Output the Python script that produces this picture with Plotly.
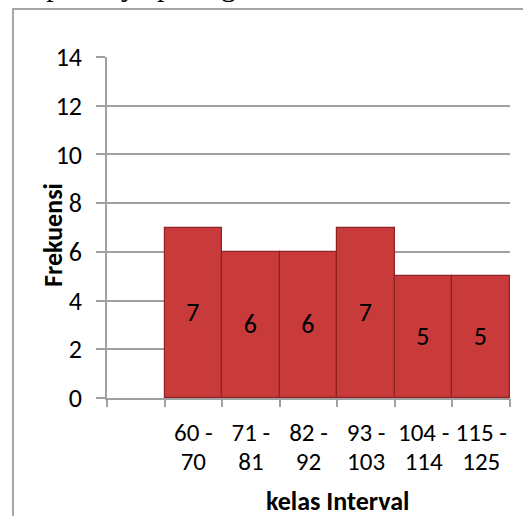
import plotly.graph_objects as go

# ---- data ----
categories = ["", "60 - 70", "71 - 81", "82 - 92", "93 - 103", "104 - 114", "115 - 125"]
frekuensi = [None, 7, 6, 6, 7, 5, 5]
label_top = ["", "60 -", "71 -", "82 -", "93 -", "104 -", "115 -"]
label_bottom = ["", "70", "81", "92", "103", "114", "125"]
y_ticks = [0, 2, 4, 6, 8, 10, 12, 14]
x_title = "kelas Interval"
y_title = "Frekuensi"
page_text = "ta pertanya pada gambar di bawah ini."

FONT = "Carlito, Lato, 'Open Sans', sans-serif"
GRAY = "#a0a0a0"

n = len(categories)
centers = [i + 0.5 for i in range(n)]
bounds = list(range(n + 1))

fig = go.Figure()
fig.add_trace(go.Bar(
    x=centers,
    y=frekuensi,
    width=1,
    marker=dict(color="#c93b3b", line=dict(color="#8e2222", width=1.2)),
    text=[("" if v is None else str(v)) for v in frekuensi],
    textposition="inside",
    insidetextanchor="middle",
    textangle=0,
    textfont=dict(family=FONT, size=26, color="black"),
    hoverinfo="skip",
    showlegend=False,
))

fig.update_layout(
    width=523, height=516,
    margin=dict(l=107, r=13, t=57, b=118),
    paper_bgcolor="white", plot_bgcolor="white",
    bargap=0,
    font=dict(family=FONT, size=26, color="black"),
    xaxis=dict(
        range=[0, n], tickvals=centers, ticktext=label_top,
        ticks="", showgrid=False, zeroline=False,
        showline=True, linecolor=GRAY, linewidth=1.5,
        tickfont=dict(family=FONT, size=25, color="black"),
        ticklabelstandoff=11,
    ),
    xaxis2=dict(
        range=[0, n], tickvals=centers, ticktext=label_bottom,
        overlaying="x", anchor="y", side="bottom",
        ticks="", showgrid=False, zeroline=False, showline=False,
        tickfont=dict(family=FONT, size=25, color="black"),
        ticklabelstandoff=46,
    ),
    xaxis3=dict(
        range=[0, n], tickvals=bounds, showticklabels=False,
        overlaying="x", anchor="y", side="bottom",
        ticks="outside", ticklen=8, tickwidth=1.5, tickcolor=GRAY,
        showgrid=False, zeroline=False, showline=False,
    ),
    yaxis=dict(
        range=[0, 14], tickvals=y_ticks,
        ticks="outside", ticklen=9, tickwidth=1.5, tickcolor=GRAY,
        showgrid=True, gridcolor=GRAY, gridwidth=1.5,
        zeroline=False, showline=True, linecolor=GRAY, linewidth=1.5,
        tickfont=dict(family=FONT, size=26, color="black"),
        ticklabelstandoff=9,
    ),
)

# invisible traces to activate the overlay axes
fig.add_trace(go.Scatter(x=[None], y=[None], xaxis="x2", yaxis="y", showlegend=False, hoverinfo="skip"))
fig.add_trace(go.Scatter(x=[None], y=[None], xaxis="x3", yaxis="y", showlegend=False, hoverinfo="skip"))

# axis titles
fig.add_annotation(
    text="<b>" + x_title + "</b>", xref="paper", yref="paper",
    x=0.5 * (centers[1] + centers[-1]) / n, y=-0.303, xanchor="center", yanchor="middle",
    showarrow=False, font=dict(family=FONT, size=26, color="black"),
)
fig.add_annotation(
    text="<b>" + y_title + "</b>", xref="paper", yref="paper",
    x=-0.134, y=0.478, xanchor="center", yanchor="middle", textangle=-90,
    showarrow=False, font=dict(family=FONT, size=26, color="black"),
)

# frame around the chart (document picture border)
fig.add_shape(
    type="path", xref="paper", yref="paper",
    path="M -0.2333,-0.36 L -0.2333,1.1408 L 1.06,1.1408",
    line=dict(color="#a6a6a6", width=2),
)

# cut-off line of document text above the chart
fig.add_annotation(
    text=page_text, xref="paper", yref="paper",
    x=-0.228, y=1.154, xanchor="left", yanchor="bottom",
    showarrow=False, font=dict(family="'Liberation Serif', 'Times New Roman', serif", size=30, color="black"),
)

fig.write_html("out.html")
